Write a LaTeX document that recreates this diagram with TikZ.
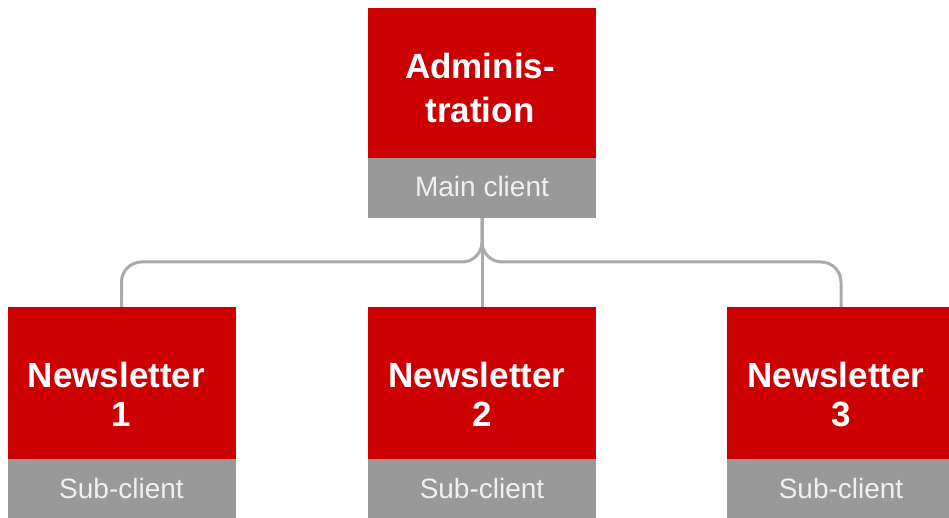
\documentclass[tikz,border=0pt]{standalone}
\usepackage{fontspec}
\setmainfont{Liberation Sans}
\definecolor{boxred}{HTML}{CC0000}
\definecolor{boxgray}{HTML}{999999}
\definecolor{linegray}{HTML}{AAAAAA}
\definecolor{subtext}{HTML}{F0F0F0}
\tikzset{
  redbox/.style={fill=boxred, draw=none, minimum width=228pt, inner sep=0pt},
  graybox/.style={fill=boxgray, draw=none, minimum width=228pt, inner sep=0pt},
  titletext/.style={text=white, align=center, inner sep=0pt},
  subtexts/.style={text=subtext, font=\fontsize{28}{32}\selectfont, inner sep=0pt},
  conn/.style={draw=linegray, line width=3pt, rounded corners=20pt}
}
\begin{document}
\begin{tikzpicture}[x=1pt,y=-1pt]
\useasboundingbox (0,0) rectangle (949,518);
% top box
\node[redbox, minimum height=150pt] (adm) at (482,83) {};
\node[graybox, minimum height=60pt] (admg) at (482,188) {};
\node[titletext, font=\fontsize{35}{44}\selectfont\bfseries] (admt) at (480,87.5) {Adminis-\\tration};
\node[subtexts] (admst) at (482,186) {Main client};
% bottom boxes
\foreach \i/\x in {1/121.5, 2/482, 3/841}{
  \node[redbox, minimum height=152pt] (nl\i) at (\x,383) {};
  \node[graybox, minimum height=59pt] (nlg\i) at (\x,488.5) {};
  \node[titletext, font=\fontsize{35}{39}\selectfont\bfseries] (nlt\i) at (\x,394.5) {Newsletter\hspace*{10pt}\\\i};
  \node[subtexts] (nlst\i) at (\x,488) {Sub-client};
}
% connectors
\coordinate (hub) at (admg.south |- 0,262);
\draw[conn] (admg.south) -- (hub) -| (nl1.north);
\draw[conn] (admg.south) -- (hub) -| (nl3.north);
\draw[draw=linegray, line width=3pt] (admg.south) -- (nl2.north);
\end{tikzpicture}
\end{document}
